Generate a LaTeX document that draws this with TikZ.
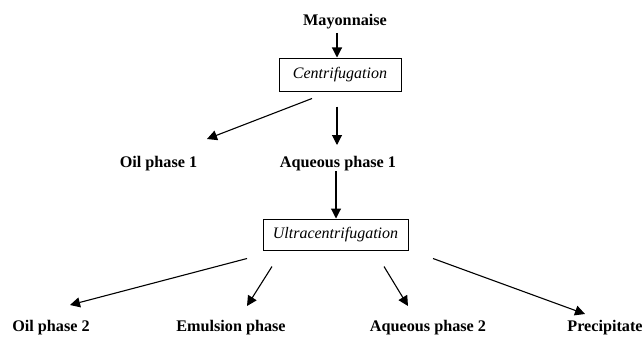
\documentclass[tikz,border=0pt]{standalone}
\usepackage{fontspec}
\setmainfont{Liberation Serif}
\usetikzlibrary{arrows.meta}
\begin{document}
\begin{tikzpicture}[x=1pt,y=-1pt,
  lbl/.style={font=\fontsize{16.2}{19}\selectfont\bfseries, inner sep=0pt, anchor=base},
  proc/.style={draw, line width=1pt, font=\fontsize{16}{19}\selectfont\itshape, inner sep=0pt},
  arr/.style={line width=1.1pt, -{Triangle[length=10pt,width=10pt]}}]
\useasboundingbox (0,0) rectangle (644,337);
\node[lbl] (may) at (345,26) {Mayonnaise};
\node[proc, minimum width=122pt, minimum height=33pt] (c1) at (340,74.5) {Centrifugation};
\node[lbl] (oil1) at (158.5,167) {Oil phase 1};
\node[lbl] (aq1) at (338,167) {Aqueous phase 1};
\node[proc, minimum width=145pt, minimum height=31pt] (c2) at (335.5,234.5) {Ultracentrifugation};
\node[lbl] (oil2) at (51,331.5) {Oil phase 2};
\node[lbl] (emul) at (231,331.5) {Emulsion phase};
\node[lbl] (aq2) at (428,331.5) {Aqueous phase 2};
\node[lbl] (prec) at (605,331.5) {Precipitate};

\draw[arr] ([xshift=-8pt,yshift=-7pt]may.base) -- ([xshift=-3pt]c1.north);
\draw[arr] ([xshift=-28pt,yshift=-7pt]c1.south) -- ([xshift=48.5pt,yshift=28pt]oil1.base);
\draw[arr] ([xshift=-3pt,yshift=-15pt]c1.south) -- ([xshift=-1pt,yshift=22pt]aq1.base);
\draw[arr] ([xshift=-2pt,yshift=-4pt]aq1.base) -- ([xshift=0.5pt]c2.north);
\draw[arr] ([xshift=-88.5pt,yshift=-8pt]c2.south) -- ([xshift=19pt,yshift=26.5pt]oil2.base);
\draw[arr] ([xshift=-63.5pt,yshift=-16pt]c2.south) -- ([xshift=16pt,yshift=25.5pt]emul.base);
\draw[arr] ([xshift=48.5pt,yshift=-16pt]c2.south) -- ([xshift=-20pt,yshift=25.5pt]aq2.base);
\draw[arr] ([xshift=97.5pt,yshift=-8pt]c2.south) -- ([xshift=-20pt,yshift=17.5pt]prec.base);
\end{tikzpicture}
\end{document}
